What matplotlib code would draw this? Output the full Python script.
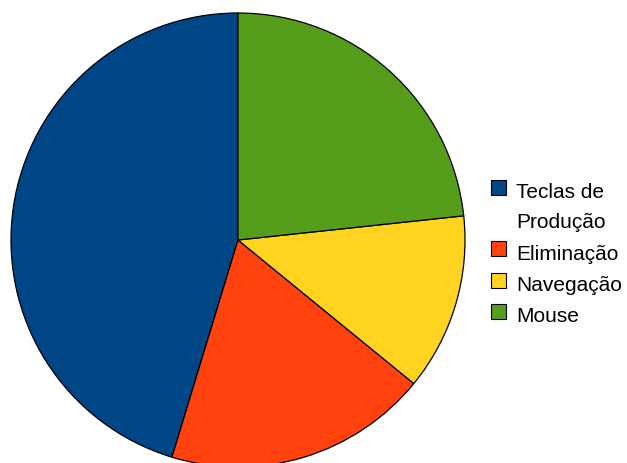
import matplotlib

matplotlib.use("Agg")
import matplotlib.pyplot as plt
from matplotlib.patches import Rectangle

labels = ["Teclas de\nProdução", "Eliminação", "Navegação", "Mouse"]
shares = [45.3, 18.8, 12.6, 23.3]
colors = ["#004586", "#ff420e", "#ffd320", "#579d1c"]

W, H = 627, 464
fig = plt.figure(figsize=(W / 100, H / 100), dpi=100)
plt.rcParams["font.family"] = ["Liberation Sans", "DejaVu Sans"]

# pie occupies a square box, slightly cut off at the bottom edge
cx, cy, r = 238, 241, 227
ax = fig.add_axes([(cx - r) / W, 1 - (cy + r) / H, 2 * r / W, 2 * r / H])
ax.pie(
    shares,
    colors=colors,
    startangle=90,
    counterclock=True,
    radius=1.0,
    wedgeprops={"edgecolor": "black", "linewidth": 0.9},
)
ax.set_xlim(-1, 1)
ax.set_ylim(-1, 1)
ax.set_aspect("equal")
ax.axis("off")

# legend drawn by hand so the swatch sits on the first line of a wrapped label
box_x, box_size, text_x = 491, 15, 516
line_h = 30
entry_h = 31.5
baseline = 198
for label, color in zip(labels, colors):
    box_mid = baseline - 10
    fig.patches.append(
        Rectangle(
            (box_x / W, 1 - (box_mid + box_size / 2) / H),
            box_size / W,
            box_size / H,
            transform=fig.transFigure,
            facecolor=color,
            edgecolor="black",
            linewidth=0.8,
        )
    )
    lines = label.split("\n")
    for i, line in enumerate(lines):
        fig.text(text_x / W, 1 - (baseline + i * line_h) / H, line,
                 fontsize=15, va="baseline", ha="left", color="black")
    baseline += line_h * (len(lines) - 1) + entry_h

fig.savefig("out.png", dpi=100)
